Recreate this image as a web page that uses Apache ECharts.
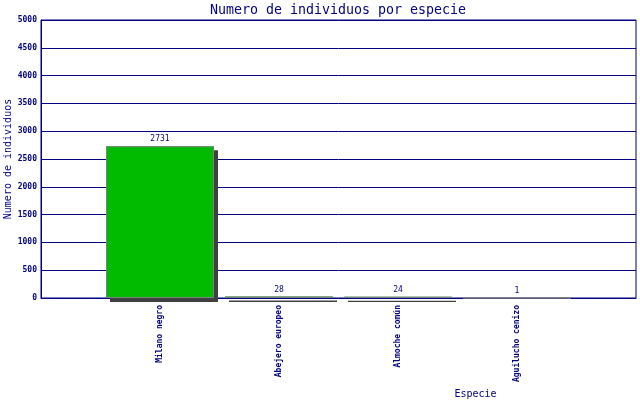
<!DOCTYPE html>
<html>
<head>
<meta charset="utf-8">
<script src="https://cdn.jsdelivr.net/npm/echarts@6/dist/echarts.min.js"></script>
<style>
  html, body { margin: 0; padding: 0; background: #fff; }
  #chart { width: 640px; height: 400px; }
</style>
</head>
<body>
<div id="chart"></div>
<script>
var species = ['', 'Milano negro', 'Abejero europeo', 'Almoche común', 'Aguilucho cenizo', ''];
var counts = ['-', 2731, 28, 24, 1, '-'];
var yTicks = [0, 500, 1000, 1500, 2000, 2500, 3000, 3500, 4000, 4500, 5000];

(function() {
  var navy = '#000080';
  var mono = '"DejaVu Sans Mono", "Liberation Mono", monospace';
  var chart = echarts.init(document.getElementById('chart'), null, { renderer: 'canvas' });

  chart.setOption({
    animation: false,
    title: {
      text: 'Numero de individuos por especie',
      left: 333,
      textAlign: 'center',
      top: -1,
      textStyle: { color: navy, fontFamily: mono, fontSize: 13.3, fontWeight: 'normal' }
    },
    grid: {
      left: 41, right: 4, top: 20, bottom: 102,
      containLabel: false,
      outerBoundsMode: 'none',
      show: true, borderColor: navy, borderWidth: 1
    },
    xAxis: {
      type: 'category',
      data: species,
      boundaryGap: false,
      name: 'Especie',
      nameLocation: 'middle',
      nameGap: 96,
      nameMoveOverlap: false,
      nameTextStyle: { color: navy, fontFamily: mono, fontSize: 10, padding: [0, 0, 0, 274], verticalAlign: 'middle' },
      axisLine: { lineStyle: { color: navy } },
      axisTick: { show: false },
      axisLabel: {
        color: navy, fontFamily: mono, fontSize: 8, fontWeight: 'bold',
        rotate: 90, margin: 7, interval: 0
      },
      splitLine: { show: false }
    },
    yAxis: {
      type: 'value',
      min: yTicks[0],
      max: yTicks[yTicks.length - 1],
      interval: yTicks[1] - yTicks[0],
      name: 'Numero de individuos',
      nameLocation: 'middle',
      nameGap: 33,
      nameMoveOverlap: false,
      nameTextStyle: { color: navy, fontFamily: mono, fontSize: 10, verticalAlign: 'middle' },
      axisLine: { show: true, lineStyle: { color: navy } },
      axisTick: { show: false },
      axisLabel: {
        color: navy, fontFamily: mono, fontSize: 8, fontWeight: 'bold', margin: 4,
        formatter: function(v) { return String(v); }
      },
      splitLine: { lineStyle: { color: navy, width: 1 } }
    },
    series: [
      {
        // fill with hard drop shadow
        type: 'bar',
        data: counts,
        barWidth: 108,
        silent: true,
        itemStyle: {
          color: '#00bb00',
          shadowColor: '#404040',
          shadowBlur: 0,
          shadowOffsetX: 4,
          shadowOffsetY: 4
        }
      },
      {
        // grey outline + value labels
        type: 'bar',
        data: counts,
        barWidth: 108,
        barGap: '-100%',
        itemStyle: { color: 'rgba(0,0,0,0)', borderColor: '#808080', borderWidth: 1 },
        label: {
          show: true,
          position: 'top',
          distance: 3,
          color: navy,
          fontFamily: mono,
          fontSize: 8
        }
      }
    ]
  });
  window.addEventListener('resize', function() { chart.resize(); });
})();
</script>
</body>
</html>
